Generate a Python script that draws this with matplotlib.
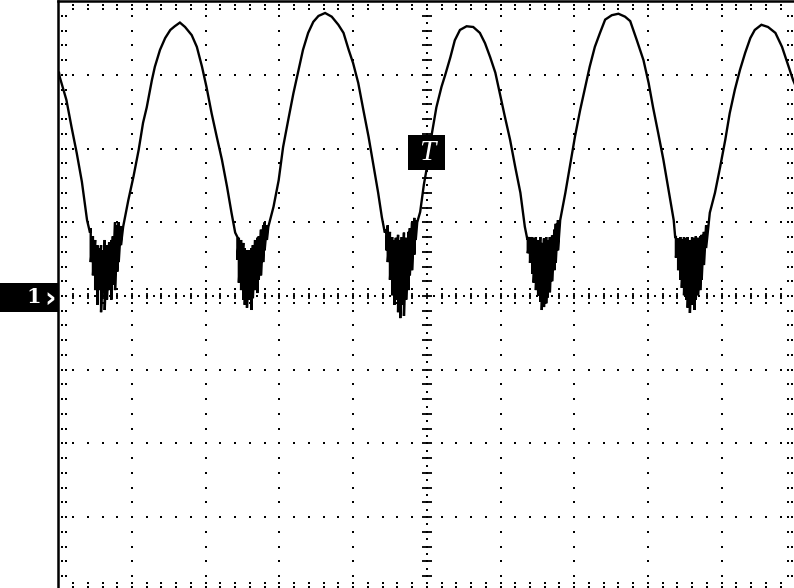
import matplotlib.pyplot as plt
import numpy as np
from matplotlib.patches import Rectangle

# Scope trace, in divisions
# x: 0..10 div, y: -4..4 div, y = 0 is the channel 1 ground marker
seg_a_x = [0.01, 0.02, 0.11, 0.18, 0.25, 0.32, 0.39, 0.43]
seg_a_y = [3.03, 2.97, 2.66, 2.29, 1.94, 1.55, 1.03, 0.86]

seg_b_x = [0.88, 0.95, 1.02, 1.09, 1.15, 1.20, 1.27, 1.31, 1.38, 1.45, 1.52, 1.58,
           1.65, 1.72, 1.81, 1.88, 1.95, 2.01, 2.08, 2.15, 2.22, 2.29, 2.35, 2.40]
seg_b_y = [0.94, 1.30, 1.62, 1.98, 2.35, 2.56, 2.93, 3.11, 3.34, 3.50, 3.61, 3.66,
           3.71, 3.65, 3.54, 3.38, 3.11, 2.84, 2.48, 2.16, 1.85, 1.48, 1.13, 0.86]

seg_c_x = [2.85, 2.92, 2.99, 3.05, 3.12, 3.19, 3.26, 3.32, 3.39, 3.46, 3.53, 3.62,
           3.71, 3.80, 3.87, 3.94, 4.00, 4.07, 4.14, 4.21, 4.27, 4.34, 4.39, 4.43]
seg_c_y = [0.94, 1.21, 1.57, 2.02, 2.39, 2.75, 3.07, 3.34, 3.57, 3.72, 3.80, 3.84,
           3.79, 3.68, 3.57, 3.34, 3.16, 2.89, 2.52, 2.16, 1.81, 1.40, 1.07, 0.86]

seg_d_x = [4.87, 4.91, 4.96, 5.02, 5.07, 5.13, 5.20, 5.25, 5.32, 5.38, 5.45, 5.54,
           5.63, 5.72, 5.79, 5.86, 5.93, 5.99, 6.06, 6.13, 6.20, 6.27, 6.33, 6.36]
seg_d_y = [1.00, 1.14, 1.51, 1.85, 2.21, 2.56, 2.84, 3.00, 3.24, 3.47, 3.61, 3.66,
           3.65, 3.57, 3.43, 3.24, 3.03, 2.75, 2.43, 2.12, 1.75, 1.40, 0.94, 0.79]

seg_e_x = [6.81, 6.88, 6.94, 7.01, 7.08, 7.15, 7.21, 7.28, 7.35, 7.42, 7.51, 7.60,
           7.69, 7.76, 7.85, 7.94, 8.01, 8.07, 8.14, 8.21, 8.28, 8.35, 8.37]
seg_e_y = [1.03, 1.40, 1.75, 2.16, 2.52, 2.84, 3.11, 3.38, 3.57, 3.75, 3.81, 3.83,
           3.79, 3.73, 3.47, 3.20, 2.89, 2.56, 2.21, 1.85, 1.44, 1.03, 0.80]

seg_f_x = [8.84, 8.91, 8.98, 9.05, 9.11, 9.18, 9.25, 9.32, 9.39, 9.45, 9.54, 9.63,
           9.73, 9.82, 9.88, 9.97, 10.0]
seg_f_y = [1.13, 1.40, 1.75, 2.12, 2.48, 2.80, 3.07, 3.30, 3.50, 3.61, 3.68, 3.65,
           3.57, 3.38, 3.20, 2.93, 2.86]

# noisy valleys: spike position, spike top, spike bottom
tr1_x = [0.44, 0.47, 0.50, 0.53, 0.55, 0.58, 0.61, 0.63, 0.66, 0.69, 0.72, 0.74, 0.77, 0.80, 0.82, 0.85]
tr1_top = [0.92, 0.81, 0.76, 0.69, 0.65, 0.69, 0.62, 0.76, 0.69, 0.73, 0.76, 0.81, 1.00, 0.96, 1.00, 0.95]
tr1_bot = [0.46, 0.28, 0.08, -0.12, 0.08, -0.22, 0.05, -0.19, -0.05, 0.08, -0.05, 0.15, 0.08, 0.33, 0.46, 0.69]

tr2_x = [2.43, 2.45, 2.48, 2.51, 2.53, 2.56, 2.59, 2.62, 2.64, 2.67, 2.70, 2.72, 2.75, 2.78, 2.80, 2.83]
tr2_top = [0.80, 0.79, 0.76, 0.72, 0.65, 0.62, 0.62, 0.65, 0.69, 0.76, 0.79, 0.81, 0.90, 0.96, 1.00, 0.96]
tr2_bot = [0.49, 0.18, 0.08, -0.05, -0.12, -0.16, -0.05, -0.19, -0.03, 0.08, 0.04, 0.22, 0.28, 0.46, 0.62, 0.76]

tr3_x = [4.45, 4.47, 4.50, 4.53, 4.56, 4.58, 4.61, 4.64, 4.66, 4.69, 4.72, 4.75, 4.77, 4.80, 4.83, 4.85]
tr3_top = [0.90, 0.96, 0.87, 0.80, 0.76, 0.79, 0.83, 0.76, 0.80, 0.86, 0.79, 0.87, 0.92, 1.00, 1.06, 1.03]
tr3_bot = [0.62, 0.46, 0.22, 0.01, -0.12, -0.05, -0.22, -0.30, -0.12, -0.27, -0.05, 0.08, 0.28, 0.35, 0.56, 0.76]

tr4_x = [6.37, 6.40, 6.43, 6.45, 6.48, 6.51, 6.54, 6.56, 6.59, 6.62, 6.64, 6.67, 6.70, 6.73, 6.75, 6.78]
tr4_top = [0.80, 0.80, 0.80, 0.78, 0.80, 0.76, 0.80, 0.72, 0.78, 0.80, 0.76, 0.80, 0.82, 0.90, 0.98, 1.03]
tr4_bot = [0.58, 0.45, 0.30, 0.18, 0.08, 0.00, -0.08, -0.19, -0.15, -0.10, -0.02, 0.05, 0.20, 0.35, 0.45, 0.62]

tr5_x = [8.38, 8.41, 8.44, 8.46, 8.49, 8.52, 8.54, 8.57, 8.60, 8.63, 8.65, 8.68, 8.71, 8.73, 8.76, 8.79]
tr5_top = [0.80, 0.78, 0.80, 0.77, 0.80, 0.78, 0.80, 0.76, 0.80, 0.78, 0.81, 0.79, 0.81, 0.83, 0.87, 0.96]
tr5_bot = [0.52, 0.35, 0.22, 0.11, 0.01, -0.05, -0.16, -0.23, -0.12, -0.19, -0.05, 0.01, 0.08, 0.22, 0.42, 0.65]

trig_level = 1.95   # "T" marker on the centre line
channel_label = '1'

# build one continuous trace
trace_x, trace_y = [], []
parts = [(seg_a_x, seg_a_y), (tr1_x, tr1_top, tr1_bot),
         (seg_b_x, seg_b_y), (tr2_x, tr2_top, tr2_bot),
         (seg_c_x, seg_c_y), (tr3_x, tr3_top, tr3_bot),
         (seg_d_x, seg_d_y), (tr4_x, tr4_top, tr4_bot),
         (seg_e_x, seg_e_y), (tr5_x, tr5_top, tr5_bot),
         (seg_f_x, seg_f_y)]
for p in parts:
    if len(p) == 2:
        trace_x += p[0]
        trace_y += p[1]
    else:
        for x, t, b in zip(*p):
            trace_x += [x, x]
            trace_y += [t, b]

W, H = 794, 588
fig = plt.figure(figsize=(W / 100, H / 100), dpi=100)
ax = fig.add_axes([58.3 / W, -2.8 / H, 737.0 / W, 589.6 / H])
ax.set_xlim(0, 10)
ax.set_ylim(-4, 4)
ax.set_xticks([])
ax.set_yticks([])
for s in ax.spines.values():
    s.set_linewidth(1.8)
    s.set_color('black')

dot = dict(ls='none', marker='s', ms=1.9, mew=0, color='black', zorder=1)
fx = np.round(np.arange(0, 10.01, 0.2), 2)
fy = np.round(np.arange(-4, 4.01, 0.2), 2)

# dotted graticule
for gy in [-3, -2, -1, 1, 2, 3]:
    ax.plot(fx, np.full_like(fx, gy), **dot)
for gx in [1, 2, 3, 4, 6, 7, 8, 9]:
    ax.plot(np.full_like(fy, gx), fy, **dot)

# ticks along the frame
for off in [0.045, 0.1]:
    ax.plot(np.full_like(fy, off), fy, **dot)
    ax.plot(np.full_like(fy, 10 - off), fy, **dot)
for off in [0.05, 0.1]:
    ax.plot(fx, np.full_like(fx, 4 - off), **dot)
    ax.plot(fx, np.full_like(fx, -4 + off), **dot)

# centre axes with finer ticks
cx = np.round(np.arange(0, 10.01, 0.1), 2)
cy = np.round(np.arange(-4, 4.01, 0.1), 2)
ax.plot(cx, np.zeros_like(cx), **dot)
ax.plot(np.full_like(cy, 5), cy, **dot)
for off in [-0.1, 0.1]:
    ax.plot(fx, np.full_like(fx, off), **dot)
ax.plot(fx, np.zeros_like(fx), ls='none', marker='|', ms=5, mew=1.3, color='black', zorder=1)
ax.plot(np.full_like(fy, 5), fy, ls='none', marker='_', ms=7, mew=1.3, color='black', zorder=1)

# signal
ax.plot(trace_x, trace_y, color='black', lw=1.7, solid_joinstyle='miter', zorder=3)

# trigger marker
ax.add_patch(Rectangle((5 - 0.25, trig_level - 0.237), 0.5, 0.475,
                       facecolor='black', edgecolor='none', zorder=5))
ax.text(5.0, trig_level - 0.01, 'T', color='white', fontsize=21, style='italic',
        family='Liberation Serif', ha='center', va='center', zorder=6)

# channel 1 ground marker left of the screen
fig.patches.append(Rectangle((0, 1 - 312 / H), 58 / W, 29 / H, transform=fig.transFigure,
                             facecolor='black', edgecolor='none'))
fig.text(34 / W, 1 - 297 / H, channel_label, color='white', fontsize=15, fontweight='bold',
         family='DejaVu Serif', ha='center', va='center')
fig.text(50 / W, 1 - 299 / H, '\u203a', color='white', fontsize=20, fontweight='bold',
         family='DejaVu Sans', ha='center', va='center')

fig.savefig('out.png', dpi=100)
